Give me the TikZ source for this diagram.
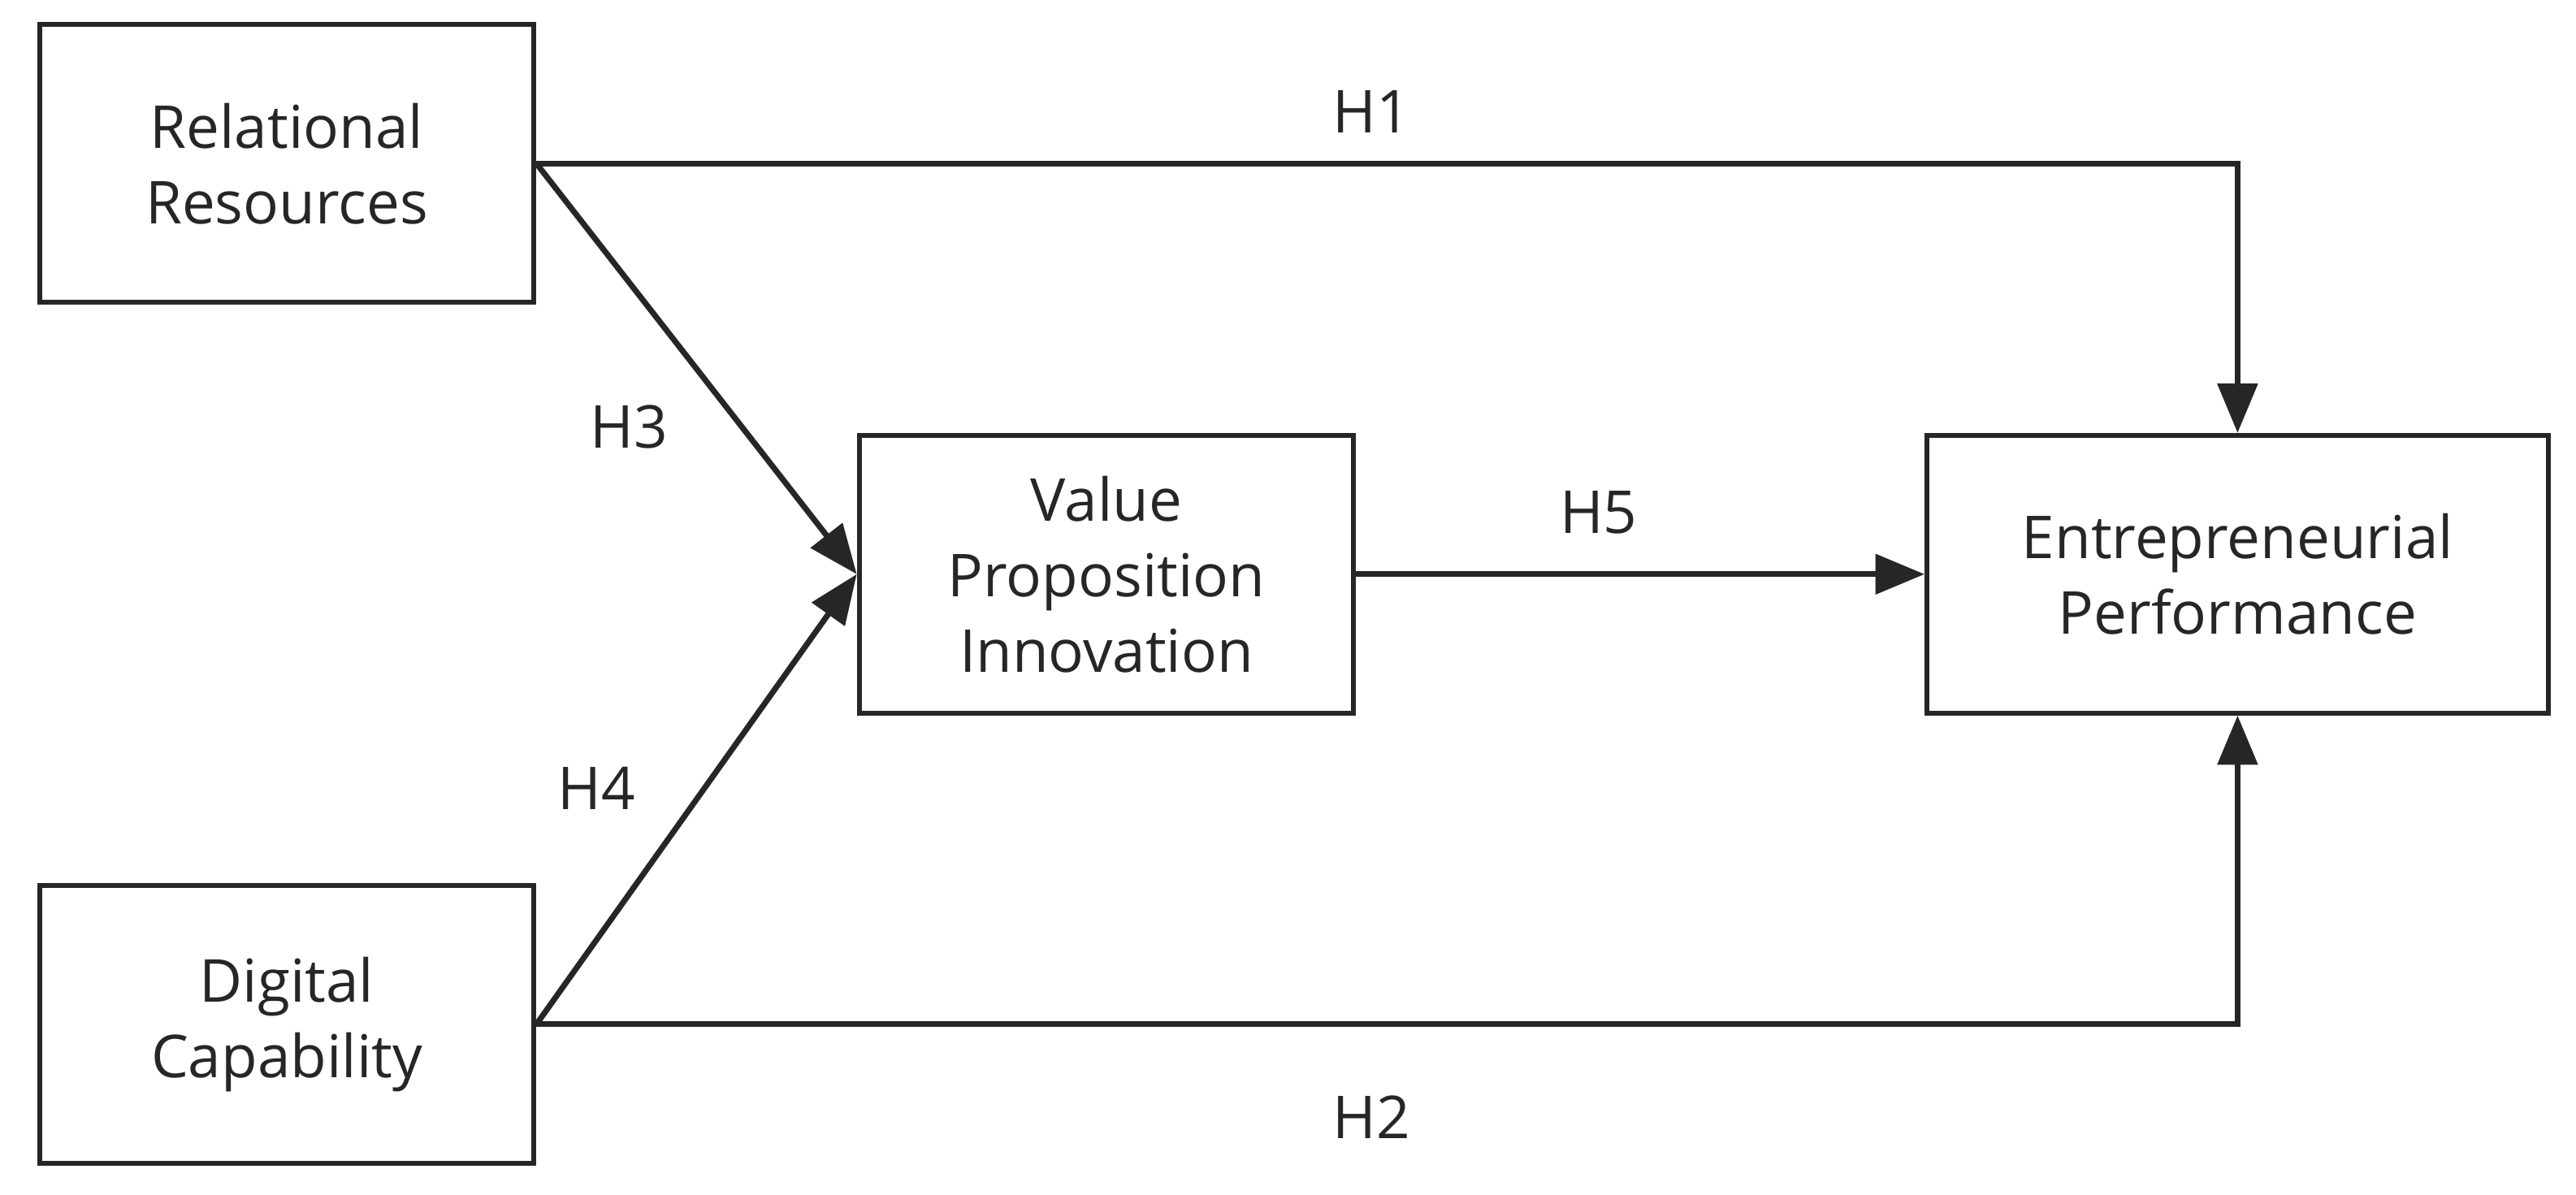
\documentclass[tikz,border=0pt]{standalone}
\usepackage{fontspec}
\setmainfont{Open Sans}
\usetikzlibrary{arrows.meta}
\begin{document}
\begin{tikzpicture}[x=1pt,y=-1pt,
  box/.style={draw=black!85,line width=3pt,minimum width=301pt,minimum height=169pt,align=center,font=\fontsize{36}{46}\selectfont,text=black!85},
  conn/.style={draw=black!85,line width=3.5pt,-{Triangle[length=30pt,width=24pt]}},
  lab/.style={font=\fontsize{36}{42}\selectfont,text=black!85}]
\useasboundingbox (0,0) rectangle (1568,727);
\node[box] (rr) at (174.5,99.5) {Relational\\Resources};
\node[box] (dc) at (174.5,623.5) {Digital\\Capability};
\node[box] (vpi) at (673.5,349.5) {Value\\Proposition\\Innovation};
\node[box,minimum width=378pt] (ep) at (1362,349.5) {Entrepreneurial\\Performance};
\coordinate (rrc) at (rr.east);
\coordinate (dcc) at (dc.east);
\draw[conn] (rrc) -- (ep.north |- rrc) -- (ep.north);
\draw[conn] (dcc) -- (ep.south |- dcc) -- (ep.south);
\draw[conn] (rrc) -- (vpi.west);
\draw[conn] (dcc) -- (vpi.west);
\draw[conn] (vpi.east) -- (ep.west);
\node[lab] (h1) at (835,68) {H1};
\node[lab] (h2) at (835,680) {H2};
\node[lab] (h3) at (383,260) {H3};
\node[lab] (h4) at (363,480) {H4};
\node[lab] (h5) at (973,312) {H5};
\end{tikzpicture}
\end{document}
